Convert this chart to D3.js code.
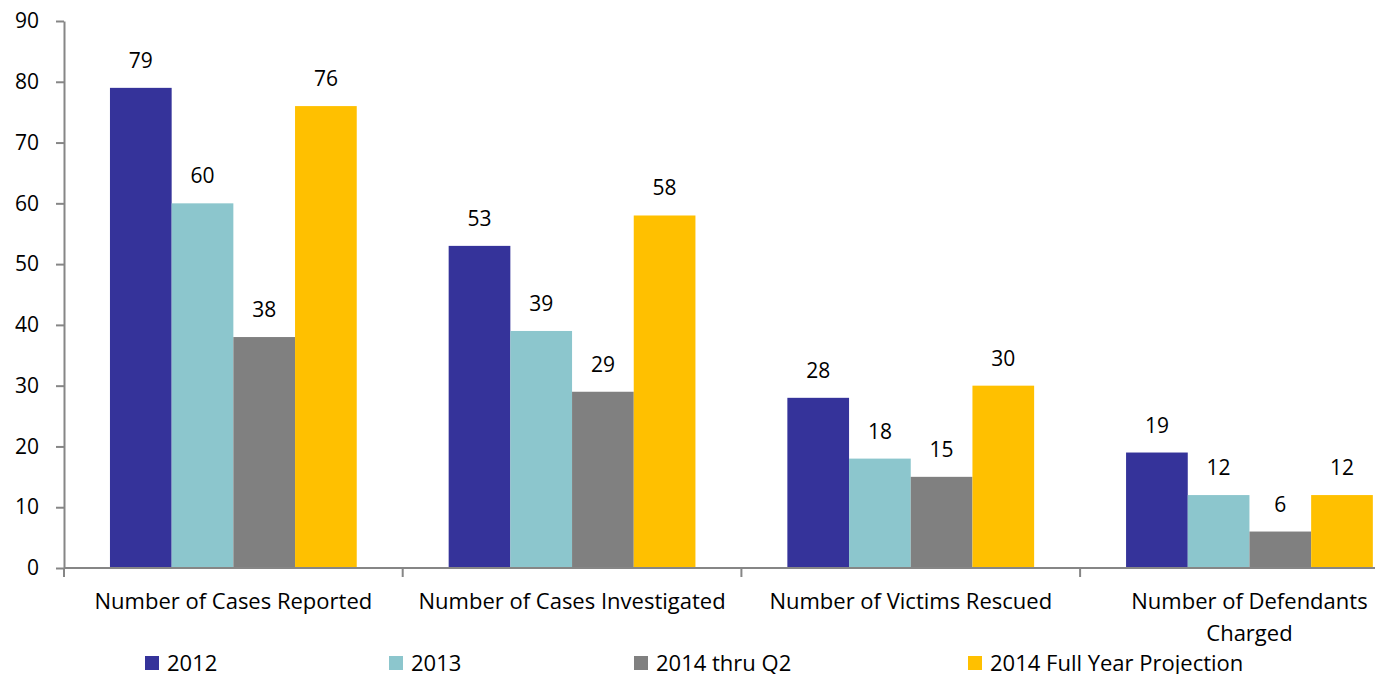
<!DOCTYPE html>
<html>
<head>
<meta charset="utf-8">
<script src="https://cdn.jsdelivr.net/npm/d3@7"></script>
<style>
  body { margin: 0; background: #fff; }
  svg { display: block; font-family: "Open Sans", sans-serif; }
</style>
</head>
<body>
<div class="container"></div>
<script>
//=================================================
// Data
//=================================================
const categories = ["Number of Cases Reported", "Number of Cases Investigated", "Number of Victims Rescued", "Number of Defendants Charged"];
const series = ["2012", "2013", "2014 thru Q2", "2014 Full Year Projection"];
const values2012 = [79, 53, 28, 19];
const values2013 = [60, 39, 18, 12];
const values2014q2 = [38, 29, 15, 6];
const values2014full = [76, 58, 30, 12];
const colors = ["#35339a", "#8cc6cd", "#808080", "#ffc000"];
const yTicks = [0, 10, 20, 30, 40, 50, 60, 70, 80, 90];

const allValues = [values2012, values2013, values2014q2, values2014full];
const data = categories.map((c, i) => ({
  cat: c,
  vals: series.map((s, j) => ({ key: s, value: allValues[j][i], color: colors[j] }))
}));

//=================================================
// Dimensions
//=================================================
var width = 1375,
  height = 674,
  plotLeft = 64,
  plotTop = 21,
  plotBottom = 568,
  groupWidth = 338.7,
  fontSize = 22,
  smallFont = 21;

const svg = d3.select(".container").
append("svg").
attr("width", width).
attr("height", height);

// scales
const x0 = d3.scaleBand().domain(categories).range([plotLeft, plotLeft + groupWidth * categories.length]);
const x1 = d3.scaleBand().domain(series).range([0, x0.bandwidth()]).paddingOuter(0.745);
const y = d3.scaleLinear().domain([0, 90]).range([plotBottom, plotTop]);

//=================================================
// Y axis
//=================================================
const yAxis = d3.axisLeft(y).tickValues(yTicks).tickSize(8).tickSizeOuter(0).tickPadding(17);
const gy = svg.append("g").attr("transform", "translate(" + plotLeft + ",0)").call(yAxis);
gy.selectAll("path, line").attr("stroke", "#868686").attr("stroke-width", 2);
gy.selectAll("text").attr("font-size", smallFont).attr("fill", "#000").attr("font-family", "'Open Sans', sans-serif");

//=================================================
// Bars
//=================================================
const groups = svg.selectAll(".grp").
data(data).
enter().
append("g").
attr("class", "grp").
attr("transform", d => "translate(" + x0(d.cat) + ",0)");

groups.selectAll("rect").
data(d => d.vals).
enter().
append("rect").
attr("x", d => x1(d.key)).
attr("y", d => y(d.value)).
attr("width", x1.bandwidth()).
attr("height", d => plotBottom - y(d.value)).
attr("fill", d => d.color);

groups.selectAll(".lbl").
data(d => d.vals).
enter().
append("text").
attr("class", "lbl").
attr("x", d => x1(d.key) + x1.bandwidth() / 2).
attr("y", d => y(d.value) - 20).
attr("text-anchor", "middle").
attr("font-size", smallFont).
text(d => d.value);

//=================================================
// X axis
//=================================================
svg.append("line").
attr("x1", plotLeft).attr("x2", width).
attr("y1", plotBottom).attr("y2", plotBottom).
attr("stroke", "#868686").attr("stroke-width", 2);

svg.selectAll(".xtick").
data(categories).
enter().
append("line").
attr("x1", d => x0(d)).attr("x2", d => x0(d)).
attr("y1", plotBottom).attr("y2", plotBottom + 9).
attr("stroke", "#868686").attr("stroke-width", 2);

const xLabels = svg.selectAll(".xlbl").
data(categories).
enter().
append("text").
attr("class", "xlbl").
attr("text-anchor", "middle").
attr("font-size", fontSize).
attr("transform", d => "translate(" + (x0(d) + x0.bandwidth() / 2) + ",609)");

xLabels.each(function (d) {
  const t = d3.select(this);
  const lines = d === "Number of Defendants Charged" ? ["Number of Defendants", "Charged"] : [d];
  lines.forEach((l, i) => t.append("tspan").attr("x", 0).attr("dy", i ? 32 : 0).text(l));
});

//=================================================
// Legend
//=================================================
const legendX = [145, 389, 634, 968];
const legend = svg.selectAll(".leg").
data(series).
enter().
append("g").
attr("class", "leg").
attr("transform", (d, i) => "translate(" + legendX[i] + ",656)");

legend.append("rect").attr("width", 14).attr("height", 14).attr("fill", (d, i) => colors[i]);
legend.append("text").attr("x", 22).attr("y", 15).attr("font-size", fontSize).text(d => d);
</script>
</body>
</html>
